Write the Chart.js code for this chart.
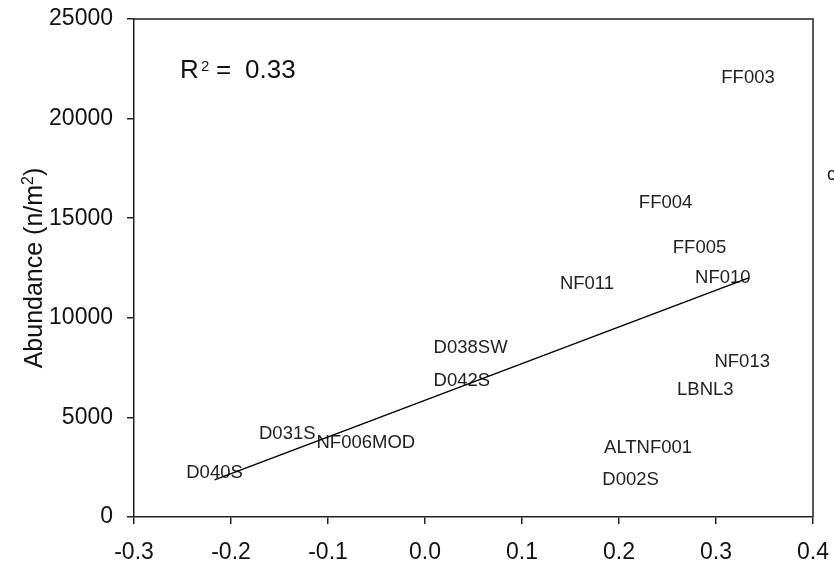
<!DOCTYPE html>
<html>
<head>
<meta charset="utf-8">
<script src="https://cdn.jsdelivr.net/npm/chart.js@4/dist/chart.umd.min.js"></script>
<style>
  html, body { margin: 0; padding: 0; background: #fff; }
  canvas { display: block; }
</style>
</head>
<body>
<canvas id="c" width="834" height="566"></canvas>
<script>
// ---- data ----
const siteLabels = ['D040S', 'D031S', 'NF006MOD', 'D038SW', 'D042S', 'NF013', 'LBNL3',
                    'ALTNF001', 'D002S', 'FF004', 'FF005', 'NF010', 'NF011', 'FF003'];
const xValues = [-0.217, -0.142, -0.061, 0.047, 0.038, 0.327, 0.289,
                 0.230, 0.212, 0.248, 0.283, 0.307, 0.167, 0.333];
const yValues = [2210, 4190, 3720, 8510, 6820, 7790, 6400,
                 3490, 1880, 15750, 13490, 11980, 11700, 22060];
const xTickLabels = ['-0.3', '-0.2', '-0.1', '0.0', '0.1', '0.2', '0.3', '0.4'];
const yTickLabels = ['0', '5000', '10000', '15000', '20000', '25000'];
const yTitleMain = 'Abundance (n/m';
const yTitleSup = '2';
const yTitleEnd = ')';
const r2Value = '0.33';
const edgeText = 'c';

// least-squares fit through the points
const n = xValues.length;
const mx = xValues.reduce((a, b) => a + b, 0) / n;
const my = yValues.reduce((a, b) => a + b, 0) / n;
let sxy = 0, sxx = 0;
for (let i = 0; i < n; i++) { sxy += (xValues[i] - mx) * (yValues[i] - my); sxx += (xValues[i] - mx) ** 2; }
const slope = sxy / sxx, intercept = my - slope * mx;
const xMin = Math.min(...xValues), xMax = Math.max(...xValues);
const fitLine = [{ x: xMin, y: intercept + slope * xMin }, { x: xMax, y: intercept + slope * xMax }];

const points = xValues.map((x, i) => ({ x, y: yValues[i] }));

const FONT = '"Liberation Sans", Arial, sans-serif';

const decorPlugin = {
  id: 'decor',
  beforeDatasetsDraw(chart) {
    const ctx = chart.ctx;
    const meta = chart.getDatasetMeta(0);
    ctx.save();
    ctx.fillStyle = '#222';
    ctx.font = '18.5px ' + FONT;
    ctx.textAlign = 'center';
    ctx.textBaseline = 'middle';
    meta.data.forEach((el, i) => ctx.fillText(siteLabels[i], el.x, el.y));
    ctx.restore();
  },
  afterDraw(chart) {
    const ctx = chart.ctx;
    const a = chart.chartArea;
    ctx.save();
    // box top & right
    ctx.strokeStyle = '#222';
    ctx.lineWidth = 1.5;
    ctx.beginPath();
    ctx.moveTo(a.left, a.top);
    ctx.lineTo(a.right, a.top);
    ctx.lineTo(a.right, a.bottom);
    ctx.stroke();

    // R^2 annotation
    ctx.fillStyle = '#111';
    ctx.textBaseline = 'alphabetic';
    ctx.textAlign = 'left';
    ctx.font = '26px ' + FONT;
    ctx.fillText('R', 180, 78);
    ctx.font = '15px ' + FONT;
    ctx.fillText('2', 201, 71);
    ctx.font = '26px ' + FONT;
    ctx.fillText('=', 216, 78);
    ctx.fillText(r2Value, 245, 78);

    // y axis title (rotated, with superscript)
    ctx.save();
    ctx.font = '25px ' + FONT;
    const w1 = ctx.measureText(yTitleMain).width;
    const w3 = ctx.measureText(yTitleEnd).width;
    ctx.font = '16px ' + FONT;
    const w2 = ctx.measureText(yTitleSup).width;
    const total = w1 + w2 + w3;
    ctx.translate(42, 268);
    ctx.rotate(-Math.PI / 2);
    let x0 = -total / 2;
    ctx.font = '25px ' + FONT;
    ctx.fillText(yTitleMain, x0, 0);
    ctx.font = '16px ' + FONT;
    ctx.fillText(yTitleSup, x0 + w1, -9);
    ctx.font = '25px ' + FONT;
    ctx.fillText(yTitleEnd, x0 + w1 + w2, 0);
    ctx.restore();

    // cut-off text at right edge
    ctx.font = '18px ' + FONT;
    ctx.fillText(edgeText, 827, 180);
    ctx.restore();
  }
};

new Chart(document.getElementById('c'), {
  type: 'scatter',
  data: {
    datasets: [
      { data: points, pointRadius: 0, pointHoverRadius: 0, showLine: false },
      { type: 'line', data: fitLine, borderColor: '#000', borderWidth: 1.5,
        pointRadius: 0, fill: false, tension: 0 }
    ]
  },
  options: {
    responsive: false,
    animation: false,
    devicePixelRatio: 1,
    layout: { padding: { left: 0, top: 19, right: 21, bottom: 0 } },
    plugins: { legend: { display: false }, tooltip: { enabled: false }, title: { display: false } },
    scales: {
      x: {
        type: 'linear', min: -0.3, max: 0.4,
        afterFit(s) { s.height = 49; s.paddingLeft = 0; s.paddingRight = 0; },
        ticks: {
          stepSize: 0.1, padding: 15, color: '#111',
          font: { family: FONT, size: 23 },
          maxRotation: 0, autoSkip: false,
          callback: (v) => xTickLabels[Math.round((v + 0.3) / 0.1)]
        },
        grid: { drawOnChartArea: false, drawTicks: true, tickLength: 7, color: '#222', lineWidth: 1.5 },
        border: { display: true, color: '#222', width: 1.5 }
      },
      y: {
        type: 'linear', min: 0, max: 25000,
        afterFit(s) { s.width = 134; s.paddingTop = 0; s.paddingBottom = 0; },
        ticks: {
          stepSize: 5000, padding: 14, color: '#111',
          font: { family: FONT, size: 23 },
          callback: (v) => yTickLabels[Math.round(v / 5000)]
        },
        grid: { drawOnChartArea: false, drawTicks: true, tickLength: 7, color: '#222', lineWidth: 1.5 },
        border: { display: true, color: '#222', width: 1.5 }
      }
    }
  },
  plugins: [decorPlugin]
});
</script>
</body>
</html>
